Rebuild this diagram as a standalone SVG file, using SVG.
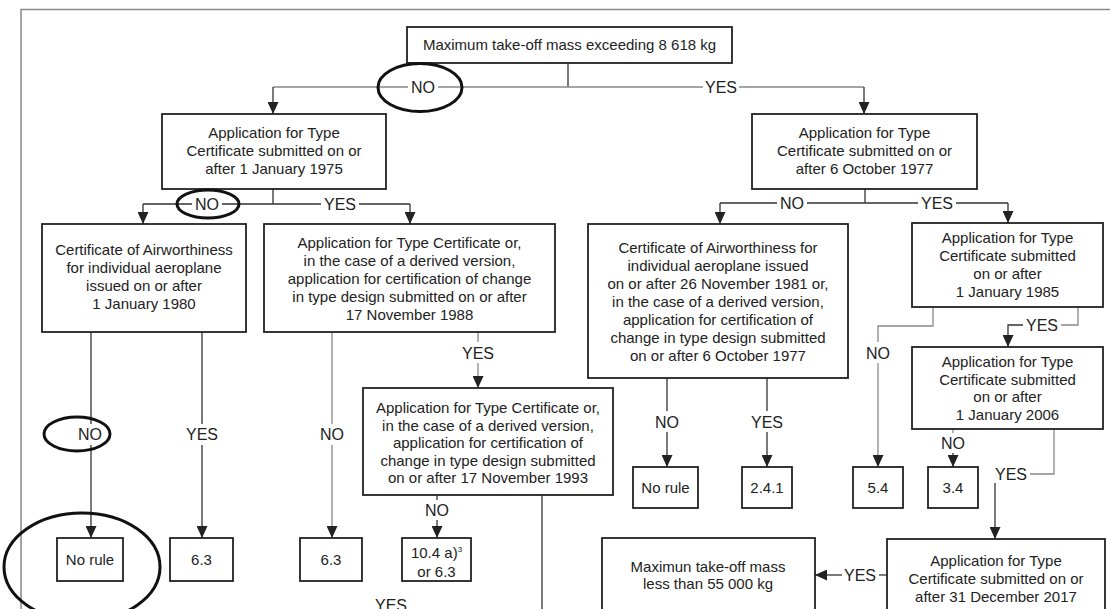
<svg xmlns="http://www.w3.org/2000/svg" width="1110" height="609" viewBox="0 0 1110 609">
<defs>
<style>
.box{fill:#fff;stroke:#222;stroke-width:1.8}
.t{font-family:"Liberation Sans",Arial,Helvetica,sans-serif;font-size:15px;fill:#222;text-anchor:middle}
.lbl{font-family:"Liberation Sans",Arial,Helvetica,sans-serif;font-size:16px;fill:#222;text-anchor:middle}
.ln{fill:none;stroke:#333;stroke-width:1.3}
.lt{fill:none;stroke:#888;stroke-width:1.3}
.arr{marker-end:url(#ah)}
.ring{fill:none;stroke:#111;stroke-width:3}
.frame{fill:none;stroke:#888;stroke-width:1.5}
</style>
<marker id="ah" markerUnits="userSpaceOnUse" markerWidth="12" markerHeight="11" refX="12" refY="5.5" orient="auto">
<path d="M0,0 L12,5.5 L0,11 z" fill="#222"/>
</marker>
</defs>
<rect width="1110" height="609" fill="#fff"/>
<path class="frame" d="M21,609 V9.5 H1110"/>

<g id="connectors">
<!-- level 1 -->
<path class="ln" d="M568,63 V87"/>
<path class="lt" d="M273,87 H408 M438,87 H703 M739,87 H864"/>
<path class="ln arr" d="M273,87 V114"/>
<path class="ln arr" d="M864,87 V114"/>
<!-- level 2 left -->
<path class="ln" d="M273,189 V204"/>
<path class="ln" d="M143,204 H192 M222,204 H321 M359,204 H410"/>
<path class="ln arr" d="M143,204 V224"/>
<path class="ln arr" d="M410,204 V224"/>
<!-- level 2 right -->
<path class="ln" d="M865,189 V203"/>
<path class="ln" d="M720,203 H777 M807,203 H918 M956,203 H1008"/>
<path class="ln arr" d="M720,203 V224"/>
<path class="ln arr" d="M1008,203 V223"/>
<!-- left column -->
<path class="ln" d="M91,332 V424"/>
<path class="ln arr" d="M91,445 V538"/>
<path class="ln" d="M202,332 V424"/>
<path class="ln arr" d="M202,445 V538"/>
<path class="lt" d="M332,332 V424"/>
<path class="lt arr" d="M332,445 V538"/>
<path class="lt" d="M478,332 V342"/>
<path class="lt arr" d="M478,363 V388"/>
<path class="ln" d="M437,495 V500"/>
<path class="ln arr" d="M437,520 V538"/>
<path class="ln" d="M542,495 V609"/>
<!-- right column -->
<path class="ln" d="M667,378 V411"/>
<path class="ln arr" d="M667,432 V467"/>
<path class="ln" d="M767,378 V411"/>
<path class="ln arr" d="M767,432 V467"/>
<path class="lt" d="M933,307 V326 H878 V342"/>
<path class="lt arr" d="M878,363 V467"/>
<path class="lt" d="M1078,307 V325 H1061"/>
<path class="ln arr" d="M1023,325 H1008 V347"/>
<path class="lt" d="M953,429 V433"/>
<path class="ln arr" d="M953,453 V467"/>
<path class="lt" d="M1054,429 V474 H1030"/>
<path class="ln arr" d="M995,483 V539"/>
<path class="ln" d="M887,575 H879"/>
<path class="ln arr" d="M842,575 H815"/>
</g>

<g id="labels">
<text class="lbl" x="423" y="93">NO</text>
<text class="lbl" x="721" y="93">YES</text>
<text class="lbl" x="207" y="210">NO</text>
<text class="lbl" x="340" y="210">YES</text>
<text class="lbl" x="792" y="209">NO</text>
<text class="lbl" x="937" y="209">YES</text>
<text class="lbl" x="90" y="440">NO</text>
<text class="lbl" x="202" y="440">YES</text>
<text class="lbl" x="332" y="440">NO</text>
<text class="lbl" x="478" y="359">YES</text>
<text class="lbl" x="437" y="516">NO</text>
<text class="lbl" x="391" y="611">YES</text>
<text class="lbl" x="667" y="428">NO</text>
<text class="lbl" x="767" y="428">YES</text>
<text class="lbl" x="878" y="359">NO</text>
<text class="lbl" x="1042" y="331">YES</text>
<text class="lbl" x="953" y="449">NO</text>
<text class="lbl" x="1011" y="480">YES</text>
<text class="lbl" x="860" y="581">YES</text>
</g>

<g id="n-top">
<rect class="box" x="407" y="27" width="325" height="36"/>
<text class="t" x="569.5" y="50">Maximum take-off mass exceeding 8 618 kg</text>
</g>
<g id="n-1975">
<rect class="box" x="162" y="114" width="224" height="75"/>
<text class="t" x="274" y="138">Application for Type</text>
<text class="t" x="274" y="156">Certificate submitted on or</text>
<text class="t" x="274" y="174">after 1 January 1975</text>
</g>
<g id="n-1977">
<rect class="box" x="752" y="114" width="225" height="75"/>
<text class="t" x="864.5" y="138">Application for Type</text>
<text class="t" x="864.5" y="156">Certificate submitted on or</text>
<text class="t" x="864.5" y="174">after 6 October 1977</text>
</g>
<g id="n-1980">
<rect class="box" x="42" y="224" width="204" height="108"/>
<text class="t" x="144" y="255">Certificate of Airworthiness</text>
<text class="t" x="144" y="273">for individual aeroplane</text>
<text class="t" x="144" y="291">issued on or after</text>
<text class="t" x="144" y="309">1 January 1980</text>
</g>
<g id="n-1988">
<rect class="box" x="264" y="224" width="291" height="108"/>
<text class="t" x="409.5" y="248">Application for Type Certificate or,</text>
<text class="t" x="409.5" y="266">in the case of a derived version,</text>
<text class="t" x="409.5" y="284">application for certification of change</text>
<text class="t" x="409.5" y="302">in type design submitted on or after</text>
<text class="t" x="409.5" y="320">17 November 1988</text>
</g>
<g id="n-1981">
<rect class="box" x="588" y="224" width="260" height="154"/>
<text class="t" x="718" y="253">Certificate of Airworthiness for</text>
<text class="t" x="718" y="271">individual aeroplane issued</text>
<text class="t" x="718" y="289">on or after 26 November 1981 or,</text>
<text class="t" x="718" y="307">in the case of a derived version,</text>
<text class="t" x="718" y="325">application for certification of</text>
<text class="t" x="718" y="343">change in type design submitted</text>
<text class="t" x="718" y="361">on or after 6 October 1977</text>
</g>
<g id="n-1985">
<rect class="box" x="912" y="223" width="191" height="84"/>
<text class="t" x="1007.5" y="243">Application for Type</text>
<text class="t" x="1007.5" y="261">Certificate submitted</text>
<text class="t" x="1007.5" y="279">on or after</text>
<text class="t" x="1007.5" y="297">1 January 1985</text>
</g>
<g id="n-2006">
<rect class="box" x="912" y="347" width="191" height="82"/>
<text class="t" x="1007.5" y="367">Application for Type</text>
<text class="t" x="1007.5" y="385">Certificate submitted</text>
<text class="t" x="1007.5" y="402">on or after</text>
<text class="t" x="1007.5" y="420">1 January 2006</text>
</g>
<g id="n-1993">
<rect class="box" x="363" y="388" width="250" height="107"/>
<text class="t" x="488" y="413">Application for Type Certificate or,</text>
<text class="t" x="488" y="431">in the case of a derived version,</text>
<text class="t" x="488" y="448">application for certification of</text>
<text class="t" x="488" y="466">change in type design submitted</text>
<text class="t" x="488" y="483">on or after 17 November 1993</text>
</g>
<g id="n-norule-left">
<rect class="box" x="57" y="538" width="66" height="43"/>
<text class="t" x="90" y="565">No rule</text>
</g>
<g id="n-63a">
<rect class="box" x="170" y="538" width="63" height="43"/>
<text class="t" x="201.5" y="565">6.3</text>
</g>
<g id="n-63b">
<rect class="box" x="300" y="538" width="62" height="43"/>
<text class="t" x="331" y="565">6.3</text>
</g>
<g id="n-104">
<rect class="box" x="402" y="538" width="69" height="43"/>
<text class="t" x="436.5" y="558">10.4 a)<tspan font-size="8" dy="-6">3</tspan></text>
<text class="t" x="436.5" y="577">or 6.3</text>
</g>
<g id="n-norule-right">
<rect class="box" x="633" y="467" width="65" height="41"/>
<text class="t" x="665.5" y="493">No rule</text>
</g>
<g id="n-241">
<rect class="box" x="742" y="467" width="50" height="41"/>
<text class="t" x="767" y="493">2.4.1</text>
</g>
<g id="n-54">
<rect class="box" x="853" y="467" width="50" height="41"/>
<text class="t" x="878" y="493">5.4</text>
</g>
<g id="n-34">
<rect class="box" x="928" y="467" width="50" height="41"/>
<text class="t" x="953" y="493">3.4</text>
</g>
<g id="n-55000">
<rect class="box" x="602" y="538" width="213" height="90"/>
<text class="t" x="708" y="572">Maximun take-off mass</text>
<text class="t" x="708" y="589">less than 55 000 kg</text>
</g>
<g id="n-2017">
<rect class="box" x="887" y="539" width="218" height="90"/>
<text class="t" x="996" y="566">Application for Type</text>
<text class="t" x="996" y="584">Certificate submitted on or</text>
<text class="t" x="996" y="602">after 31 December 2017</text>
</g>

<g id="highlights">
<ellipse class="ring" cx="420" cy="87.5" rx="42" ry="24"/>
<ellipse class="ring" cx="208" cy="204" rx="31" ry="14"/>
<ellipse class="ring" cx="77" cy="434" rx="33" ry="17"/>
<ellipse class="ring" cx="82" cy="567" rx="78" ry="54"/>
</g>
</svg>
